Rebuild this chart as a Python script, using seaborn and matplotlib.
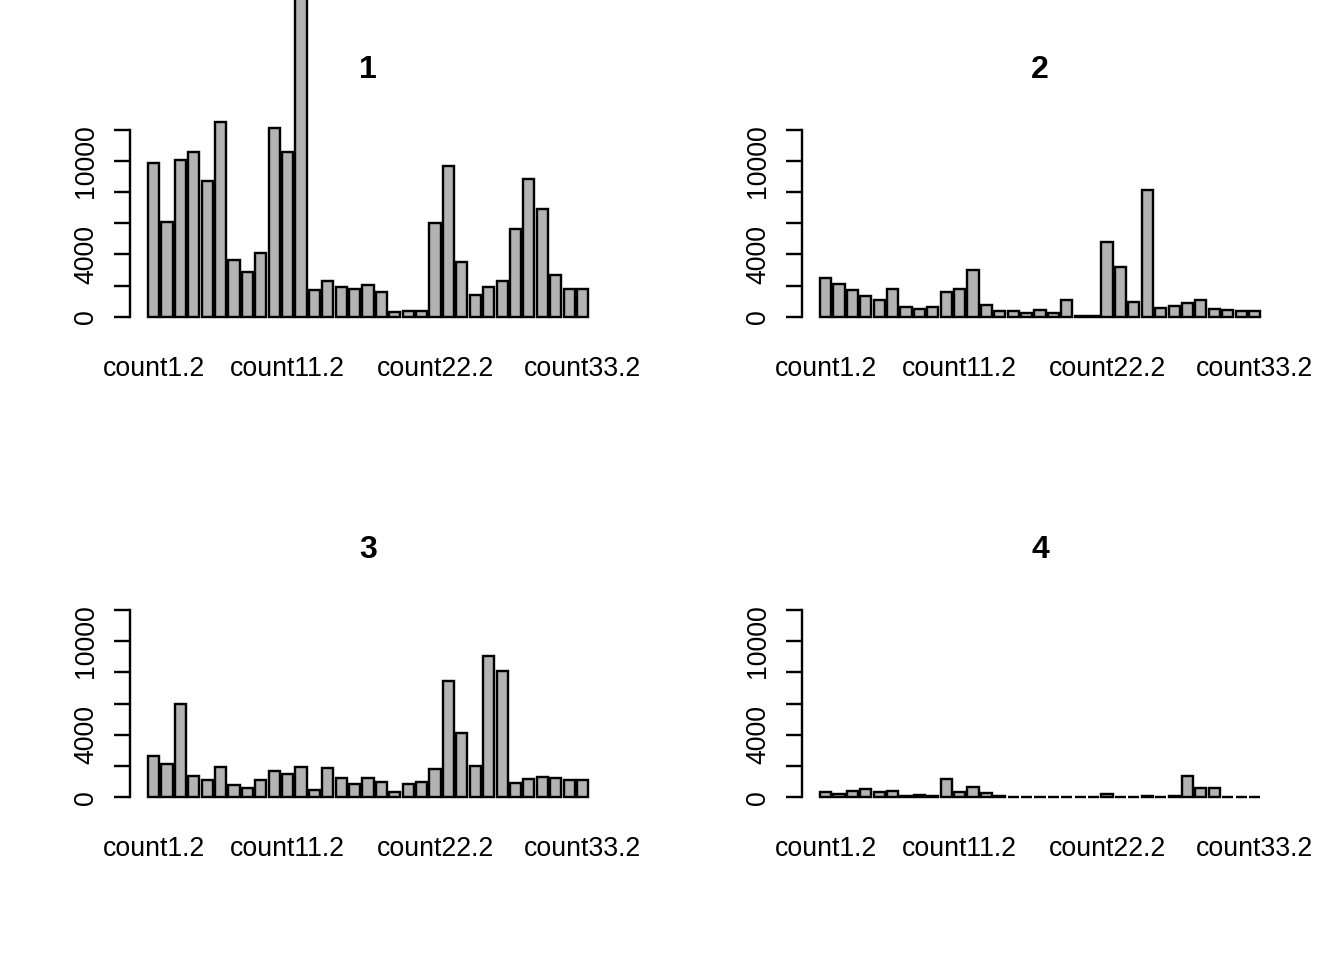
import pandas as pd
import matplotlib
matplotlib.use("Agg")
import matplotlib.pyplot as plt
import seaborn as sns

# Bar names (only some are shown on the axis, as R drops overlapping ones)
names = [f"count{i}.2" for i in range(1, 34)]

# Values
counts_1 = [9900, 6100, 10100, 10560, 8740, 12500, 3620, 2890, 4070, 12100, 10560, 21500,
            1740, 2270, 1890, 1800, 2060, 1570, 280, 370, 370, 6020, 9690, 3500,
            1390, 1910, 2290, 5660, 8830, 6920, 2680, 1780, 1780]
counts_2 = [2500, 2100, 1700, 1310, 1070, 1780, 620, 500, 600, 1570, 1780, 3000,
            770, 370, 370, 270, 410, 260, 1090, 50, 50, 4820, 3210, 940,
            8140, 540, 710, 860, 1050, 470, 430, 370, 370]
counts_3 = [2630, 2130, 5960, 1380, 1110, 1960, 770, 620, 1130, 1690, 1510, 1960,
            450, 1880, 1260, 850, 1240, 980, 340, 870, 1000, 1830, 7460, 4140,
            2000, 9040, 8120, 940, 1150, 1280, 1220, 1110, 1110]
counts_4 = [340, 190, 400, 530, 340, 420, 80, 120, 100, 1170, 320, 660,
            280, 60, 10, 10, 10, 10, 10, 10, 10, 230, 40, 10,
            70, 40, 90, 1350, 620, 580, 10, 10, 10]

panels = ["1", "2", "3", "4"]
series = [counts_1, counts_2, counts_3, counts_4]

y_ticks = [0, 2000, 4000, 6000, 8000, 10000, 12000]
y_labels = ["0", "", "4000", "", "", "10000", ""]
shown = [0, 10, 21, 32]

sns.set_style("white")
plt.rcParams["font.family"] = ["Liberation Sans", "DejaVu Sans"]
plt.rcParams.update({"text.color": "black", "xtick.color": "black",
                     "ytick.color": "black", "axes.edgecolor": "black",
                     "axes.labelcolor": "black"})

W, H = 1344, 960
fig = plt.figure(figsize=(7, 5), dpi=192)

# plot regions in pixels: (left, right, top, bottom)
boxes = [(130.4, 605.7, 122.5, 324.2), (802.4, 1277.7, 122.5, 324.2),
         (130.4, 605.7, 602.5, 804.8), (802.4, 1277.7, 602.5, 804.8)]

for title, vals, (l, r, t, b) in zip(panels, series, boxes):
    ax = fig.add_axes([l / W, 1 - b / H, (r - l) / W, (b - t) / H])
    df = pd.DataFrame({"name": names, "count": vals})
    sns.barplot(data=df, x="name", y="count", order=names, color="#B3B3B3",
                saturation=1, width=1 / 1.2, edgecolor="black", linewidth=0.9,
                errorbar=None, ax=ax)
    for p in ax.patches:
        p.set_clip_on(False)
    ax.set_xlim(-1.73, 33.73)
    ax.set_ylim(-480, 12480)
    for s in ["top", "right", "bottom"]:
        ax.spines[s].set_visible(False)
    ax.spines["left"].set_bounds(0, 12000)
    ax.spines["left"].set_linewidth(0.9)
    ax.set_yticks(y_ticks)
    ax.set_yticklabels(y_labels, rotation=90, va="center")
    ax.tick_params(axis="y", length=6, width=0.9, pad=5.75, labelsize=10, left=True)
    ax.set_xticks(shown)
    ax.set_xticklabels([names[i] for i in shown])
    ax.tick_params(axis="x", length=0, pad=11.75, labelsize=10)
    ax.set_xlabel("")
    ax.set_ylabel("")
    ax.set_title(title, fontweight="bold", fontsize=12, pad=16.5)

fig.savefig("out.png", dpi=192)
plt.close()
